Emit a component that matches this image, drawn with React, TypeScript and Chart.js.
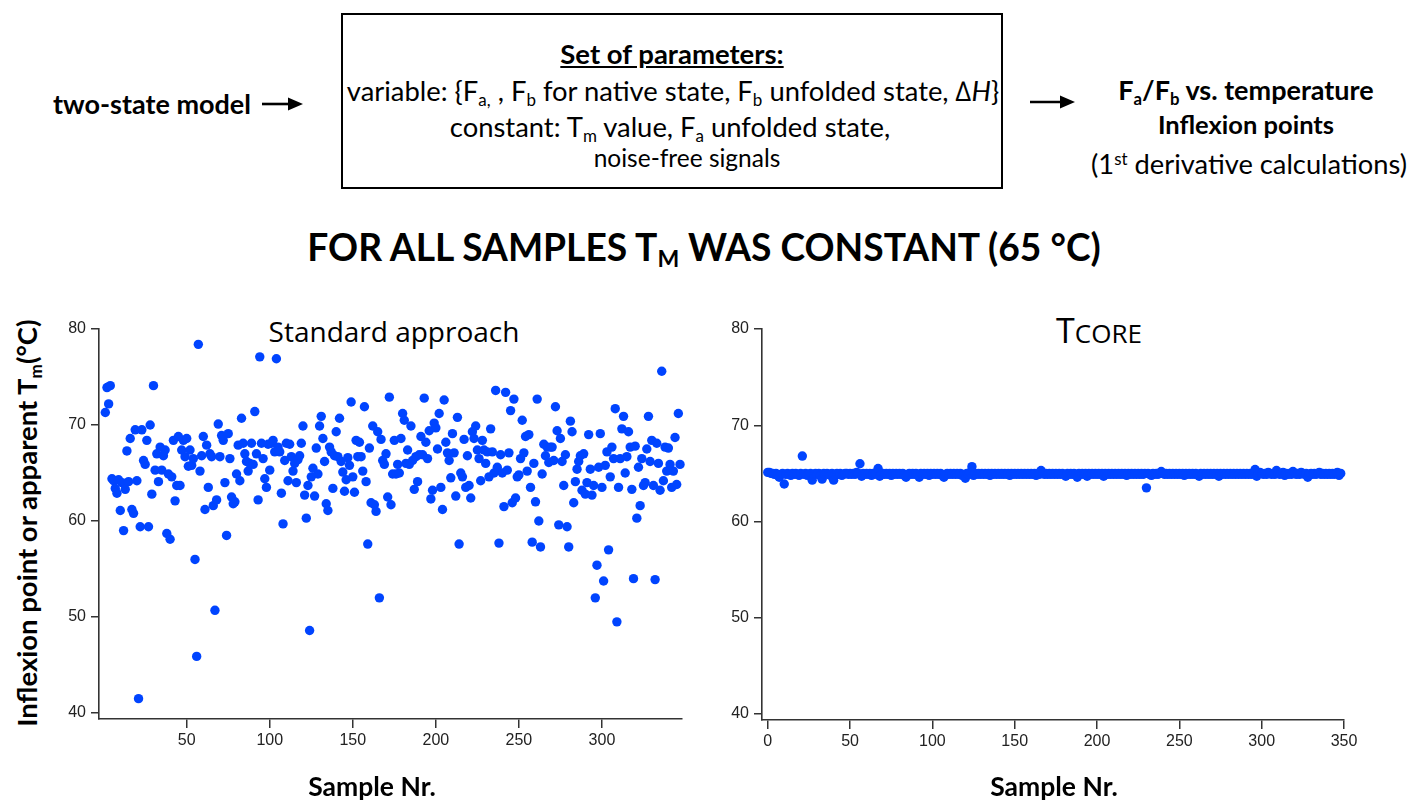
import React, { useEffect, useRef } from "react";
import { Chart, registerables } from "chart.js";

Chart.register(...registerables);

// Standard approach: apparent Tm for samples 1..347
const standardTm = [
  71.3, 73.9, 72.2, 74.1, 64.4, 64.2, 63.4, 62.9, 64.3, 61.1,
  64.0, 59.0, 63.3, 67.3, 64.1, 68.6, 61.2, 60.8, 69.5, 64.2,
  41.5, 59.4, 69.5, 66.3, 65.9, 68.4, 59.4, 70.0, 62.8, 74.1,
  65.3, 67.0, 64.1, 67.7, 65.3, 66.8, 67.4, 58.7, 64.9, 58.1,
  64.6, 68.4, 62.1, 63.7, 68.8, 63.7, 67.4, 68.4, 66.7, 68.6,
  65.7, 67.4, 65.8, 66.5, 56.0, 45.9, 78.4, 65.2, 66.8, 68.8,
  61.2, 67.9, 63.5, 67.0, 66.7, 61.6, 50.7, 62.2, 70.1, 66.7,
  68.9, 68.4, 64.0, 58.5, 69.1, 66.5, 62.5, 61.8, 62.0, 64.9,
  67.9, 64.2, 70.7, 68.1, 67.0, 66.2, 65.2, 66.0, 68.1, 65.9,
  71.4, 67.0, 62.2, 77.1, 68.1, 66.5, 64.4, 63.5, 68.0, 65.3,
  68.1, 68.4, 67.2, 76.9, 67.7, 67.2, 62.9, 59.7, 66.3, 68.1,
  64.2, 68.0, 66.7, 65.2, 66.0, 64.0, 66.4, 66.8, 68.1, 69.9,
  62.7, 60.3, 63.7, 48.6, 64.6, 65.5, 62.6, 67.6, 64.9, 69.9,
  70.9, 68.6, 66.2, 61.8, 61.1, 67.7, 67.2, 63.4, 66.8, 69.3,
  66.7, 70.7, 66.2, 65.1, 63.1, 64.3, 66.6, 65.8, 72.4, 64.6,
  63.0, 68.4, 66.7, 68.2, 66.7, 65.2, 71.9, 64.1, 57.6, 67.6,
  61.9, 69.9, 61.7, 61.0, 69.3, 52.0, 68.5, 66.3, 65.9, 67.0,
  62.5, 72.9, 61.7, 64.9, 68.4, 64.9, 65.9, 65.0, 68.6, 71.2,
  70.5, 66.0, 67.4, 65.9, 69.9, 66.3, 63.3, 66.7, 64.1, 66.9,
  68.8, 66.9, 72.8, 68.2, 66.5, 69.4, 62.3, 63.2, 70.2, 69.7,
  67.5, 71.2, 63.5, 61.2, 72.6, 68.2, 67.1, 66.3, 64.5, 69.1,
  67.1, 62.6, 70.8, 57.6, 65.0, 64.6, 68.5, 63.5, 66.8, 63.7,
  62.4, 69.3, 68.6, 69.9, 67.4, 66.5, 64.2, 68.4, 67.4, 66.0,
  67.2, 64.6, 69.6, 67.2, 65.0, 73.6, 65.6, 57.7, 66.9, 65.0,
  61.5, 73.4, 65.3, 67.1, 71.5, 61.9, 72.7, 62.4, 64.6, 64.8,
  66.5, 70.5, 67.1, 68.8, 65.2, 69.0, 63.5, 57.8, 66.0, 62.0,
  72.7, 60.0, 57.3, 64.9, 68.0, 66.8, 67.7, 66.1, 67.7, 67.7,
  66.3, 71.9, 69.4, 59.6, 68.6, 66.2, 63.7, 66.9, 59.4, 57.3,
  70.4, 69.3, 61.9, 64.1, 65.4, 66.2, 66.8, 63.2, 67.0, 62.8,
  64.0, 69.0, 65.4, 62.7, 63.7, 52.0, 55.4, 65.6, 69.1, 63.5,
  53.75, 65.8, 67.2, 57.0, 64.6, 67.7, 66.5, 71.7, 49.5, 63.5,
  66.5, 69.6, 70.9, 65.0, 66.7, 69.3, 67.7, 63.3, 54.0, 67.8,
  60.3, 65.6, 61.6, 66.5, 63.7, 64.0, 67.5, 70.9, 66.2, 68.4,
  63.7, 53.9, 68.1, 66.0, 63.2, 75.6, 64.2, 67.7, 65.2, 67.6,
  65.9, 63.5, 65.2, 68.7, 63.8, 71.2, 65.9,
];

// TCORE: Tm for samples 0..348
const tcoreTm = [
  65.1, 65.1, 65.0, 65.0, 64.9, 65.0, 64.8, 64.6, 64.9, 65.0,
  63.9, 64.9, 65.0, 64.9, 64.8, 65.0, 64.9, 65.0, 64.9, 64.8,
  65.0, 66.8, 64.9, 65.0, 64.8, 64.9, 65.0, 64.3, 64.9, 65.0,
  64.9, 65.0, 64.8, 64.4, 65.0, 64.9, 65.0, 64.9, 64.8, 65.0,
  64.3, 64.9, 65.0, 64.9, 65.0, 64.8, 64.9, 65.0, 65.0, 64.9,
  65.0, 64.9, 65.0, 64.9, 65.1, 65.0, 66.0, 64.7, 65.0, 64.9,
  65.0, 64.9, 65.0, 64.8, 65.0, 64.9, 65.0, 65.5, 64.7, 64.9,
  65.0, 64.9, 65.0, 64.9, 65.0, 64.8, 65.0, 64.9, 65.0, 64.9,
  65.0, 64.9, 65.0, 64.8, 64.6, 64.9, 65.0, 64.9, 65.0, 64.9,
  65.0, 64.9, 64.6, 65.0, 64.9, 65.0, 64.9, 65.0, 64.8, 65.0,
  64.9, 65.0, 64.9, 65.0, 64.9, 65.0, 64.8, 64.6, 64.9, 65.0,
  64.9, 65.0, 64.9, 65.0, 64.9, 65.0, 64.9, 65.0, 64.8, 64.9,
  64.5, 65.0, 64.9, 65.1, 65.7, 64.8, 65.0, 64.9, 65.0, 64.9,
  65.0, 64.9, 65.0, 64.9, 65.0, 64.8, 65.0, 64.9, 65.0, 64.9,
  65.0, 64.9, 65.0, 64.9, 65.0, 64.9, 65.0, 64.8, 65.0, 64.9,
  65.0, 64.9, 65.0, 64.9, 65.0, 64.9, 65.0, 64.9, 65.0, 64.9,
  65.0, 64.9, 65.0, 64.8, 65.0, 64.9, 65.3, 65.0, 64.9, 65.0,
  64.9, 65.0, 64.9, 65.0, 64.9, 65.0, 64.9, 65.0, 64.9, 65.0,
  64.9, 64.7, 65.0, 64.9, 65.0, 64.9, 65.0, 64.9, 64.6, 65.0,
  64.9, 65.0, 64.9, 65.0, 64.7, 65.0, 64.9, 65.0, 64.9, 65.0,
  64.9, 65.0, 64.9, 65.0, 64.7, 65.0, 64.9, 65.0, 64.9, 65.0,
  64.9, 65.0, 64.9, 65.0, 64.9, 65.0, 64.9, 65.0, 64.8, 65.0,
  64.9, 65.0, 64.9, 65.0, 64.9, 65.0, 64.9, 65.0, 64.9, 65.0,
  63.5, 65.0, 64.9, 64.8, 65.0, 64.9, 65.0, 64.9, 65.0, 65.2,
  65.0, 64.9, 65.0, 64.9, 65.0, 64.9, 65.0, 64.9, 65.0, 64.9,
  65.0, 64.9, 65.0, 64.8, 65.0, 64.9, 65.0, 64.9, 65.0, 64.9,
  65.0, 64.9, 64.7, 65.0, 64.9, 65.0, 64.9, 65.0, 64.9, 65.0,
  64.9, 65.0, 64.9, 65.0, 64.7, 65.0, 64.9, 65.0, 64.9, 65.0,
  64.9, 65.0, 64.9, 65.0, 64.9, 65.0, 64.9, 65.0, 64.9, 65.0,
  64.9, 65.0, 64.9, 65.0, 64.9, 65.0, 65.4, 64.7, 65.0, 65.1,
  65.0, 64.9, 65.0, 64.9, 65.1, 65.0, 64.9, 65.0, 64.9, 65.3,
  65.0, 64.9, 65.0, 65.1, 64.8, 65.0, 64.9, 65.0, 64.9, 65.2,
  65.0, 64.9, 65.0, 64.9, 65.1, 65.0, 64.9, 65.0, 64.6, 64.9,
  65.0, 64.9, 65.0, 64.9, 65.0, 65.1, 64.9, 65.0, 64.9, 65.0,
  64.9, 65.0, 64.9, 65.0, 64.9, 65.0, 65.1, 64.8, 65.0,
];

const standardXTicks = [50, 100, 150, 200, 250, 300];
const tcoreXTicks = [0, 50, 100, 150, 200, 250, 300, 350];
const yTicks = [40, 50, 60, 70, 80];

const POINT_COLOR = "#0044ff";
const AXIS_COLOR = "#333333";
const CALIBRI = "Lato, 'Open Sans', sans-serif";

type PanelProps = {
  values: number[];
  firstSample: number;
  xMin: number;
  xMax: number;
  xTicks: number[];
  left: number;
  top: number;
  width: number;
  height: number;
  yAxisWidth: number;
  padding: { left: number; right: number; top: number; bottom: number };
};

function ScatterPanel(p: PanelProps) {
  const ref = useRef<HTMLCanvasElement | null>(null);
  useEffect(() => {
    if (!ref.current) return;
    const tickFont = { family: "'Liberation Sans', Arial, sans-serif", size: 16 };
    const chart = new Chart(ref.current, {
      type: "scatter",
      data: {
        datasets: [
          {
            data: p.values.map((v, i) => ({ x: i + p.firstSample, y: v })),
            pointRadius: 4.7,
            pointBackgroundColor: POINT_COLOR,
            pointBorderWidth: 0,
            showLine: false,
            clip: false as any,
          },
        ],
      },
      options: {
        animation: false,
        responsive: false,
        events: [],
        layout: { padding: p.padding },
        plugins: { legend: { display: false }, tooltip: { enabled: false }, title: { display: false } },
        scales: {
          x: {
            type: "linear",
            min: p.xMin,
            max: p.xMax,
            afterBuildTicks: (axis: any) => {
              axis.ticks = p.xTicks.map((v) => ({ value: v }));
            },
            afterFit: (axis: any) => {
              axis.height = 40;
            },
            grid: {
              display: true,
              drawOnChartArea: false,
              drawTicks: true,
              tickLength: 9,
              tickColor: AXIS_COLOR,
              tickWidth: 1.5,
              color: AXIS_COLOR,
              lineWidth: 1.5,
            },
            border: { display: true, color: AXIS_COLOR, width: 1.6 },
            ticks: { font: tickFont, color: "#222", padding: 3, maxRotation: 0, autoSkip: false },
          },
          y: {
            type: "linear",
            min: 39.38,
            max: 80,
            afterBuildTicks: (axis: any) => {
              axis.ticks = yTicks.map((v) => ({ value: v }));
            },
            afterFit: (axis: any) => {
              axis.width = p.yAxisWidth;
            },
            grid: {
              display: true,
              drawOnChartArea: false,
              drawTicks: true,
              tickLength: 8,
              tickColor: AXIS_COLOR,
              tickWidth: 1.5,
              color: AXIS_COLOR,
              lineWidth: 1.5,
            },
            border: { display: true, color: AXIS_COLOR, width: 1.6 },
            ticks: { font: tickFont, color: "#222", padding: 5, autoSkip: false },
          },
        },
      },
    });
    return () => chart.destroy();
  }, []);
  return (
    <canvas
      ref={ref}
      width={p.width}
      height={p.height}
      style={{ position: "absolute", left: p.left, top: p.top, width: p.width, height: p.height }}
    />
  );
}

function Txt(props: {
  cx: number;
  cy: number;
  size: number;
  bold?: boolean;
  family?: string;
  underline?: boolean;
  children: React.ReactNode;
}) {
  const lh = Math.round(props.size * 1.2);
  return (
    <div
      style={{
        position: "absolute",
        left: props.cx - 500,
        width: 1000,
        top: props.cy - lh / 2,
        height: lh,
        lineHeight: lh + "px",
        textAlign: "center",
        whiteSpace: "nowrap",
        fontFamily: props.family || CALIBRI,
        fontSize: props.size,
        fontWeight: props.bold ? 700 : 400,
        textDecoration: props.underline ? "underline" : "none",
        color: "#000",
      }}
    >
      {props.children}
    </div>
  );
}

const sub = (s: string) => (
  <span style={{ fontSize: "0.62em", verticalAlign: "-0.28em" }}>{s}</span>
);
const sup = (s: string) => (
  <span style={{ fontSize: "0.62em", verticalAlign: "0.55em" }}>{s}</span>
);

function Arrow(props: { x1: number; x2: number; y: number }) {
  return (
    <svg
      style={{ position: "absolute", left: 0, top: 0 }}
      width={1411}
      height={801}
      viewBox="0 0 1411 801"
    >
      <line x1={props.x1} y1={props.y} x2={props.x2 - 10} y2={props.y} stroke="#000" strokeWidth={2.6} />
      <polygon
        points={`${props.x2},${props.y} ${props.x2 - 15},${props.y - 6.5} ${props.x2 - 15},${props.y + 6.5}`}
        fill="#000"
      />
    </svg>
  );
}

export default function App() {
  return (
    <div
      style={{
        position: "fixed",
        left: 0,
        top: 0,
        width: 1411,
        height: 801,
        background: "#fff",
        overflow: "hidden",
      }}
    >
      {/* header diagram */}
      <Txt cx={152} cy={104} size={27} bold>
        two-state model
      </Txt>
      <Arrow x1={262} x2={303} y={104} />
      <div
        style={{
          position: "absolute",
          left: 341,
          top: 13,
          width: 658,
          height: 172,
          border: "2px solid #000",
        }}
      />
      <Txt cx={672} cy={53} size={27.5} bold underline>
        Set of parameters:
      </Txt>
      <Txt cx={673} cy={90} size={27.4}>
        variable: {"{"}F{sub("a,")} , F{sub("b")} for native state, F{sub("b")} unfolded state, ∆<i>H</i>
        {"}"}
      </Txt>
      <Txt cx={670} cy={126} size={27.4}>
        constant: T{sub("m")} value, F{sub("a")} unfolded state,
      </Txt>
      <Txt cx={687} cy={157} size={24.5}>
        noise-free signals
      </Txt>
      <Arrow x1={1030} x2={1075} y={102} />
      <Txt cx={1246} cy={90} size={27} bold>
        F{sub("a")}/F{sub("b")} vs. temperature
      </Txt>
      <Txt cx={1246} cy={124} size={25.5} bold>
        Inflexion points
      </Txt>
      <Txt cx={1249} cy={158} size={27.3}>
        (1{sup("st")} derivative calculations)
      </Txt>

      {/* main title */}
      <Txt cx={704} cy={246} size={37.2} bold>
        FOR ALL SAMPLES T{sub("M")} WAS CONSTANT (65 °C)
      </Txt>

      {/* panel titles */}
      <Txt cx={394} cy={331} size={28} family="'Open Sans', sans-serif">
        Standard approach
      </Txt>
      <Txt cx={1099} cy={330} size={34} family="'Open Sans', sans-serif">
        T<span style={{ fontSize: 26 }}>CORE</span>
      </Txt>

      {/* y axis title */}
      <div
        style={{
          position: "absolute",
          left: 27 - 300,
          top: 523 - 17,
          width: 600,
          height: 34,
          lineHeight: "34px",
          textAlign: "center",
          whiteSpace: "nowrap",
          fontFamily: CALIBRI,
          fontWeight: 700,
          fontSize: 27.5,
          transform: "rotate(-90deg)",
          transformOrigin: "50% 50%",
        }}
      >
        Inflexion point or apparent T{sub("m")}(°C)
      </div>

      <ScatterPanel
        values={standardTm}
        firstSample={1}
        xMin={-2.8}
        xMax={348.2}
        xTicks={standardXTicks}
        left={0}
        top={300}
        width={700}
        height={480}
        yAxisWidth={99}
        padding={{ left: 0, right: 18, top: 29, bottom: 21 }}
      />
      <ScatterPanel
        values={tcoreTm}
        firstSample={0}
        xMin={-3.5}
        xMax={350}
        xTicks={tcoreXTicks}
        left={700}
        top={300}
        width={711}
        height={480}
        yAxisWidth={62}
        padding={{ left: 0, right: 67, top: 29, bottom: 20 }}
      />

      {/* x axis titles */}
      <Txt cx={372} cy={786} size={26.5} bold>
        Sample Nr.
      </Txt>
      <Txt cx={1054} cy={786} size={26.5} bold>
        Sample Nr.
      </Txt>
    </div>
  );
}
